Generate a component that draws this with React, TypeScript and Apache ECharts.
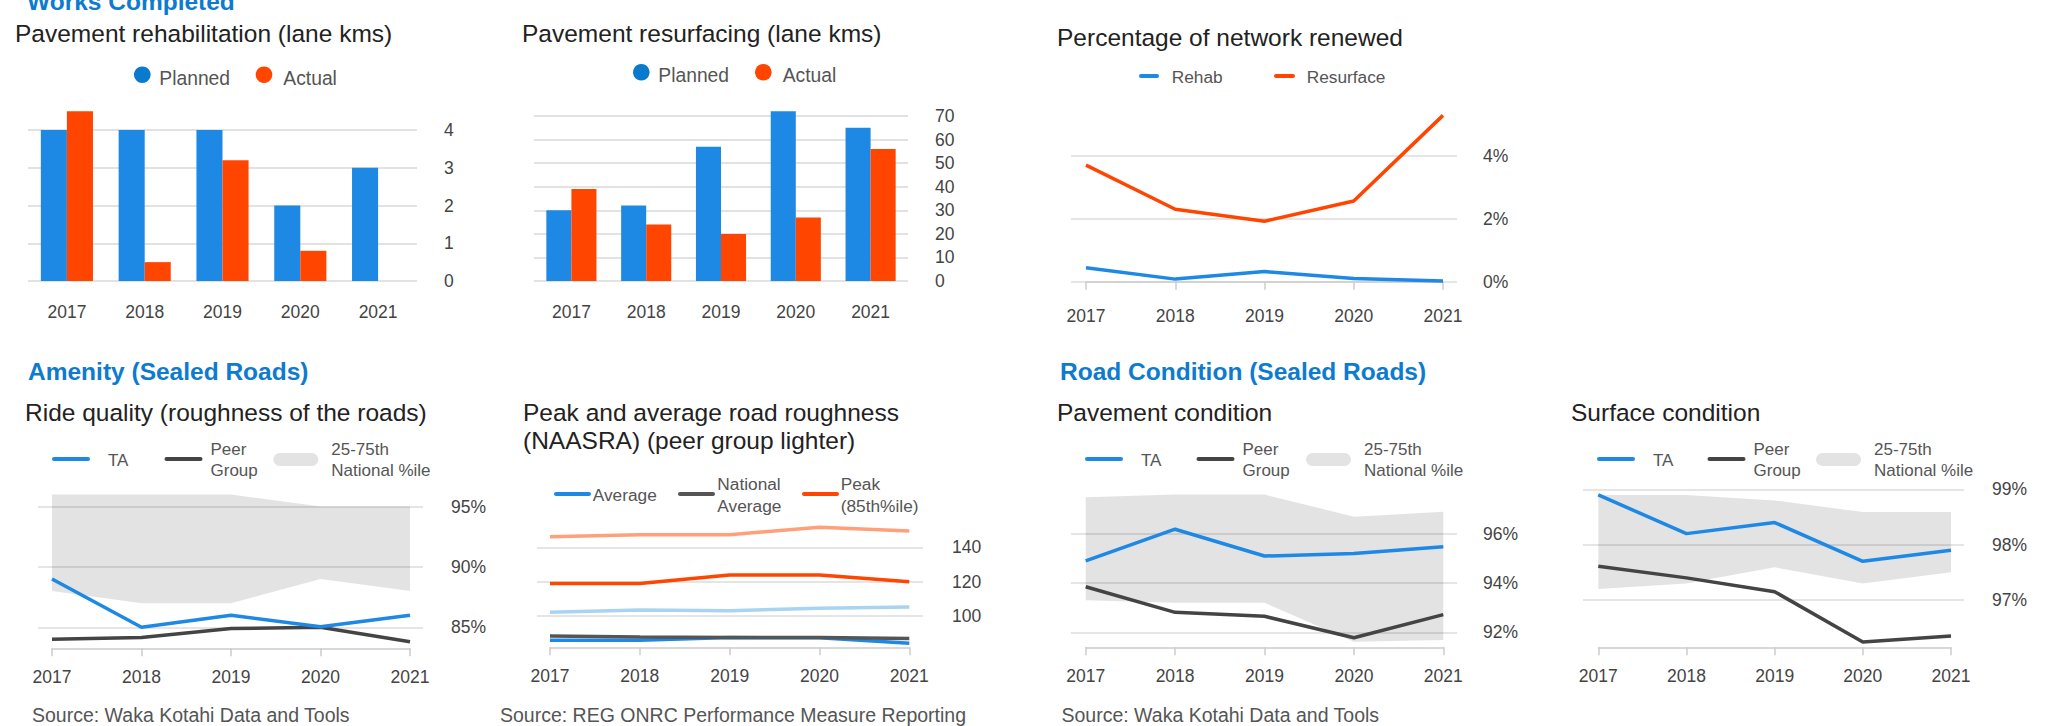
import React, { useEffect, useRef } from "react";
import * as echarts from "echarts";

// ---------- DATA ----------
const years = ["2017", "2018", "2019", "2020", "2021"];

const rehabPlanned = [4, 4, 4, 2, 3];
const rehabActual: (number | null)[] = [4.5, 0.5, 3.2, 0.8, null];
const rehabTicks = [0, 1, 2, 3, 4];

const resurfPlanned = [30, 32, 57, 72, 65];
const resurfActual = [39, 24, 20, 27, 56];
const resurfTicks = [0, 10, 20, 30, 40, 50, 60, 70];

const renewRehab = [0.44, 0.08, 0.32, 0.1, 0.02];
const renewResurface = [3.7, 2.3, 1.92, 2.56, 5.28];
const renewTicks = [0, 2, 4];

const rideTA = [89.0, 85.0, 86.0, 85.05, 86.0];
const ridePeer = [84.0, 84.15, 84.9, 85.0, 83.8];
const rideBandLow = [88, 87, 87, 89, 88];
const rideBandHigh = [96, 96, 96, 95, 95];
const rideTicks = [85, 90, 95];

const roughAvg = [85.9, 85.9, 87.5, 87.3, 84.2];
const roughNatAvg = [88.4, 87.8, 87.5, 87.5, 86.9];
const roughPeak = [119, 119, 123.9, 123.9, 120];
const roughPeerAvg = [102.2, 103.5, 103.1, 104.5, 105.2];
const roughPeerPeak = [146.2, 147.4, 147.4, 151.7, 149.5];
const roughTicks = [100, 120, 140];

const pavTA = [94.9, 96.19, 95.1, 95.2, 95.48];
const pavPeer = [93.85, 92.81, 92.65, 91.78, 92.72];
const pavBandLow = [93.3, 93.2, 93.2, 91.62, 91.69];
const pavBandHigh = [97.49, 97.6, 97.6, 96.7, 96.9];
const pavTicks = [92, 94, 96];

const surfTA = [98.9, 98.2, 98.4, 97.7, 97.9];
const surfPeer = [97.61, 97.4, 97.15, 96.24, 96.35];
const surfBandLow = [97.2, 97.3, 97.59, 97.3, 97.5];
const surfBandHigh = [98.9, 98.9, 98.8, 98.59, 98.59];
const surfTicks = [97, 98, 99];

// ---------- STYLE ----------
const FONT = "Liberation Sans, Arial, Helvetica, sans-serif";
const BLUE = "#1e88e5";
const BLUE_DARK = "#0a7bcc";
const ORANGE = "#ff4500";
const GRAY_LINE = "#444444";
const LIGHT_ORANGE = "#ffa07a";
const LIGHT_BLUE = "#a8d4f2";
const BAND = "rgba(0,0,0,0.11)";
const HEADER = "#0d7bcf";
const AXIS_TXT = "#444444";
const LEG_TXT = "#555555";
const LINE_W = 3.5;

function buildOption() {
  const grid: any[] = [];
  const xAxis: any[] = [];
  const yAxis: any[] = [];
  const series: any[] = [];
  const graphic: any[] = [];

  const addGrid = (g: any) => {
    grid.push({ ...g, outerBoundsMode: "none", containLabel: false });
    return grid.length - 1;
  };

  const valueY = (gi: number, min: number, max: number, ticks: number[], fmt: (v: number) => string, margin: number, splitW: number, splitC: string, show = true) => {
    yAxis.push({
      type: "value",
      gridIndex: gi,
      position: "right",
      min,
      max,
      show,
      axisLine: { show: false },
      axisTick: { show: false, customValues: ticks },
      axisLabel: {
        customValues: ticks,
        formatter: (v: number) => fmt(v),
        color: AXIS_TXT,
        fontSize: 17.5,
        fontFamily: FONT,
        margin,
        align: "left",
      },
      splitLine: { show: true, lineStyle: { color: splitC, width: splitW } },
    });
    return yAxis.length - 1;
  };

  // ---- bar charts ----
  const barChart = (g: any, planned: any[], actual: any[], ticks: number[], max: number, yMargin: number) => {
    const gi = addGrid(g);
    xAxis.push({
      type: "category",
      gridIndex: gi,
      data: years,
      axisLine: { show: false },
      axisTick: { show: false },
      axisLabel: { color: AXIS_TXT, fontSize: 17.5, fontFamily: FONT, margin: 22 },
    });
    const xi = xAxis.length - 1;
    const yi = valueY(gi, 0, max, ticks, (v) => String(v), yMargin, 2, "#e2e2e2");
    series.push({
      type: "bar",
      name: "Planned",
      xAxisIndex: xi,
      yAxisIndex: yi,
      data: planned,
      barGap: "0%",
      barCategoryGap: "33%",
      itemStyle: { color: BLUE },
      z: 3,
    });
    series.push({
      type: "bar",
      name: "Actual",
      xAxisIndex: xi,
      yAxisIndex: yi,
      data: actual,
      barGap: "0%",
      barCategoryGap: "33%",
      itemStyle: { color: ORANGE },
      z: 3,
    });
  };

  barChart({ left: 28, top: 105.5, width: 389, height: 175.5 }, rehabPlanned, rehabActual, rehabTicks, 4.65, 27);
  barChart({ left: 534, top: 109, width: 374, height: 172 }, resurfPlanned, resurfActual, resurfTicks, 73, 27);

  // ---- line charts ----
  const lineChart = (
    wide: [number, number],
    narrow: [number, number],
    top: number,
    height: number,
    min: number,
    max: number,
    ticks: number[],
    fmt: (v: number) => string,
    yMargin: number,
    band: { low: number[]; high: number[] } | null,
    lines: { name: string; data: number[]; color: string }[]
  ) => {
    const gw = addGrid({ left: wide[0], width: wide[1] - wide[0], top, height });
    xAxis.push({ type: "value", gridIndex: gw, show: false, min: 0, max: 1 });
    valueY(gw, min, max, ticks, fmt, yMargin, 1.5, "#dcdcdc");

    const gn = addGrid({ left: narrow[0], width: narrow[1] - narrow[0], top, height });
    xAxis.push({
      type: "category",
      gridIndex: gn,
      data: years,
      boundaryGap: false,
      axisLine: { show: true, lineStyle: { color: "#cccccc", width: 1.5 } },
      axisTick: { show: true, length: 8, alignWithLabel: true, lineStyle: { color: "#cccccc", width: 1.5 } },
      axisLabel: { color: AXIS_TXT, fontSize: 17.5, fontFamily: FONT, margin: 20 },
      splitLine: { show: false },
    });
    const xi = xAxis.length - 1;
    yAxis.push({ type: "value", gridIndex: gn, min, max, show: false, splitLine: { show: false } });
    const yi = yAxis.length - 1;
    const stackId = "band" + gn;
    if (band) {
      series.push({
        type: "line",
        name: "bandLow",
        xAxisIndex: xi,
        yAxisIndex: yi,
        data: band.low,
        stack: stackId,
        symbol: "none",
        lineStyle: { opacity: 0, width: 0 },
        z: 1,
        silent: true,
      });
      series.push({
        type: "line",
        name: "25-75th National %ile",
        xAxisIndex: xi,
        yAxisIndex: yi,
        data: band.high.map((h, i) => h - band.low[i]),
        stack: stackId,
        symbol: "none",
        lineStyle: { opacity: 0, width: 0 },
        areaStyle: { color: BAND, opacity: 1 },
        z: 1,
        silent: true,
      });
    }
    lines.forEach((l) => {
      series.push({
        type: "line",
        name: l.name,
        xAxisIndex: xi,
        yAxisIndex: yi,
        data: l.data,
        symbol: "none",
        lineStyle: { color: l.color, width: LINE_W },
        itemStyle: { color: l.color },
        z: 3,
      });
    });
  };

  const pct = (v: number) => v + "%";

  lineChart([1071, 1457], [1086, 1443], 108.45, 178.85, -0.18, 5.5, renewTicks, pct, 26, null, [
    { name: "Rehab", data: renewRehab, color: BLUE },
    { name: "Resurface", data: renewResurface, color: ORANGE },
  ]);

  lineChart([38, 423], [52, 410], 492.1, 156.2, 83.26, 96.2, rideTicks, pct, 28, { low: rideBandLow, high: rideBandHigh }, [
    { name: "Peer Group", data: ridePeer, color: GRAY_LINE },
    { name: "TA", data: rideTA, color: BLUE },
  ]);

  lineChart([537, 923], [550, 909.3], 521.6, 125.7, 81.8, 155, roughTicks, (v) => String(v), 29, null, [
    { name: "Peer Peak", data: roughPeerPeak, color: LIGHT_ORANGE },
    { name: "Peer Average", data: roughPeerAvg, color: LIGHT_BLUE },
    { name: "Average", data: roughAvg, color: BLUE },
    { name: "National Average", data: roughNatAvg, color: "#555555" },
    { name: "Peak (85th%ile)", data: roughPeak, color: ORANGE },
  ]);

  lineChart([1071, 1457], [1085.7, 1443.3], 493.3, 154, 91.39, 97.65, pavTicks, pct, 26, { low: pavBandLow, high: pavBandHigh }, [
    { name: "Peer Group", data: pavPeer, color: GRAY_LINE },
    { name: "TA", data: pavTA, color: BLUE },
  ]);

  lineChart([1583, 1964], [1598.3, 1951], 486.6, 160.7, 96.145, 99.05, surfTicks, pct, 28, { low: surfBandLow, high: surfBandHigh }, [
    { name: "Peer Group", data: surfPeer, color: GRAY_LINE },
    { name: "TA", data: surfTA, color: BLUE },
  ]);

  // ---------- GRAPHIC TEXTS / LEGENDS ----------
  const txt = (text: string, x: number, y: number, size: number, color: string, weight: any = "normal") => {
    graphic.push({
      type: "text",
      x,
      y,
      silent: true,
      style: {
        text,
        fill: color,
        fontSize: size,
        fontFamily: FONT,
        fontWeight: weight,
        align: "left",
        verticalAlign: "middle",
        textAlign: "left",
        textVerticalAlign: "middle",
      },
    });
  };
  const legLine = (x1: number, x2: number, y: number, color: string, w = 4) => {
    graphic.push({
      type: "line",
      silent: true,
      shape: { x1, y1: y, x2, y2: y },
      style: { stroke: color, lineWidth: w, lineCap: "round" },
    });
  };
  const legCircle = (cx: number, cy: number, color: string) => {
    graphic.push({ type: "circle", silent: true, shape: { cx, cy, r: 8.3 }, style: { fill: color } });
  };
  const legBand = (x: number, y: number) => {
    graphic.push({ type: "rect", silent: true, shape: { x, y, width: 45, height: 13, r: 6.5 }, style: { fill: "#e3e3e3" } });
  };

  // headers
  txt("Works Completed", 27, 1, 24.5, HEADER, "bold");
  txt("Amenity (Sealed Roads)", 28, 371, 24.5, HEADER, "bold");
  txt("Road Condition (Sealed Roads)", 1060, 371, 24.5, HEADER, "bold");

  // titles
  txt("Pavement rehabilitation (lane kms)", 15, 33.3, 24.5, "#222222");
  txt("Pavement resurfacing (lane kms)", 522, 33.3, 24.5, "#222222");
  txt("Percentage of network renewed", 1057, 37.7, 24.5, "#222222");
  txt("Ride quality (roughness of the roads)", 25, 412, 24.5, "#222222");
  txt("Peak and average road roughness", 523, 412, 24.5, "#222222");
  txt("(NAASRA) (peer group lighter)", 523, 440.7, 24.5, "#222222");
  txt("Pavement condition", 1057, 412, 24.5, "#222222");
  txt("Surface condition", 1571, 412, 24.5, "#222222");

  // legends - bar charts
  legCircle(142.3, 74.7, BLUE_DARK);
  txt("Planned", 159.3, 78.3, 19.3, LEG_TXT);
  legCircle(264, 74.7, ORANGE);
  txt("Actual", 283.3, 78.3, 19.3, LEG_TXT);

  legCircle(641.3, 72.3, BLUE_DARK);
  txt("Planned", 658.3, 75.8, 19.3, LEG_TXT);
  legCircle(763.3, 72.3, ORANGE);
  txt("Actual", 782.7, 75.8, 19.3, LEG_TXT);

  // legend - percentage renewed
  legLine(1141, 1157, 76, BLUE, 4);
  txt("Rehab", 1171.7, 77.3, 17.3, LEG_TXT);
  legLine(1276, 1293, 76, ORANGE, 4);
  txt("Resurface", 1306.7, 77.3, 17.3, LEG_TXT);

  // legends - TA / Peer / band
  const taLegend = (taX: number, peerX: number, bandX: number) => {
    legLine(taX, taX + 34, 459, BLUE, 4);
    txt("TA", taX + 54, 460, 17, LEG_TXT);
    legLine(peerX, peerX + 34, 459, GRAY_LINE, 4);
    txt("Peer", peerX + 44, 449.3, 17, LEG_TXT);
    txt("Group", peerX + 44, 470.7, 17, LEG_TXT);
    legBand(bandX, 453);
    txt("25-75th", bandX + 58, 449.3, 17, LEG_TXT);
    txt("National %ile", bandX + 58, 470.7, 17, LEG_TXT);
  };
  taLegend(54, 166.5, 273.3);
  taLegend(1087, 1198.5, 1306);
  taLegend(1599, 1709.5, 1816);

  // legend - roughness
  legLine(556, 589, 494, BLUE, 4);
  txt("Average", 592.7, 495.3, 17.3, LEG_TXT);
  legLine(680, 713, 494, "#555555", 4);
  txt("National", 717.3, 484.3, 17.3, LEG_TXT);
  txt("Average", 717.3, 506, 17.3, LEG_TXT);
  legLine(804, 837, 494, ORANGE, 4);
  txt("Peak", 840.7, 484.3, 17.3, LEG_TXT);
  txt("(85th%ile)", 840.7, 506, 17.3, LEG_TXT);

  // sources
  txt("Source: Waka Kotahi Data and Tools", 32, 714.5, 19.5, "#555555");
  txt("Source: REG ONRC Performance Measure Reporting", 500, 714.5, 19.5, "#555555");
  txt("Source: Waka Kotahi Data and Tools", 1061.5, 714.5, 19.5, "#555555");

  return {
    animation: false,
    backgroundColor: "#ffffff",
    textStyle: { fontFamily: FONT },
    grid,
    xAxis,
    yAxis,
    series,
    graphic,
  };
}

export default function App() {
  const ref = useRef<HTMLDivElement>(null);
  useEffect(() => {
    if (!ref.current) return;
    const chart = echarts.init(ref.current, undefined, { renderer: "svg" });
    chart.setOption(buildOption() as any);
    return () => chart.dispose();
  }, []);
  return (
    <div
      ref={ref}
      style={{ position: "absolute", left: 0, top: 0, width: 2070, height: 726, background: "#fff" }}
    />
  );
}
